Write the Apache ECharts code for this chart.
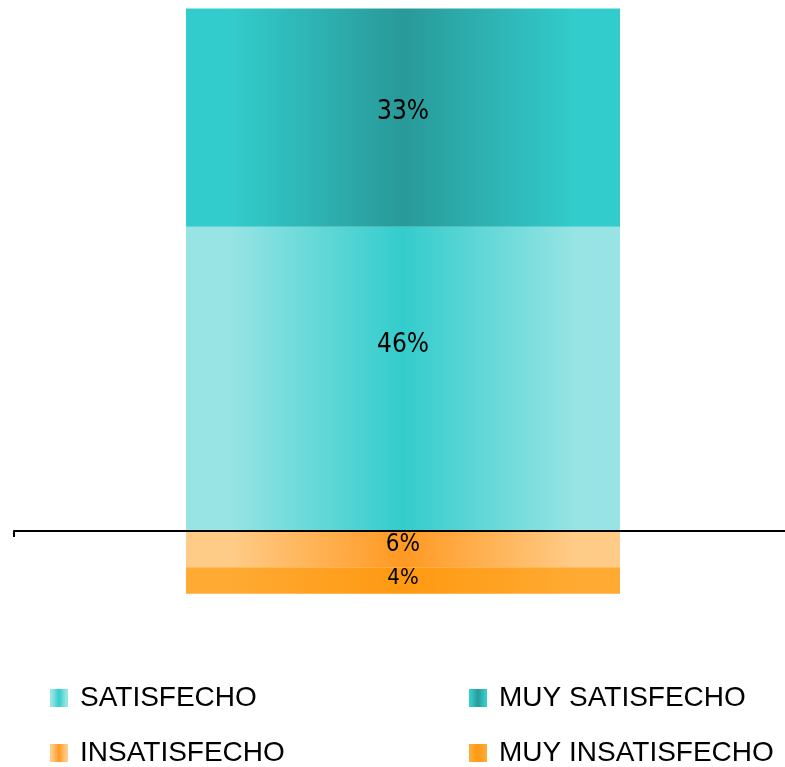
<!DOCTYPE html>
<html>
<head>
<meta charset="utf-8">
<script src="https://cdn.jsdelivr.net/npm/echarts@6/dist/echarts.min.js"></script>
<style>
  html, body { margin: 0; padding: 0; background: #fff; }
  #chart { width: 785px; height: 767px; }
</style>
</head>
<body>
<div id="chart"></div>
<script>
// single stacked column, positive = satisfied, negative = unsatisfied
const categories = ['Satisfacción'];
const satisfecho = [46];
const muySatisfecho = [33];
const insatisfecho = [-5.5];
const muyInsatisfecho = [-4];

function hGrad(edge, mid) {
  return new echarts.graphic.LinearGradient(0, 0, 1, 0, [
    { offset: 0, color: edge },
    { offset: 0.1, color: edge },
    { offset: 0.5, color: mid },
    { offset: 0.9, color: edge },
    { offset: 1, color: edge }
  ]);
}

const labelFont = '"Liberation Sans Narrow", "DejaVu Sans Condensed", "Noto Sans", sans-serif';

function pctLabel(size, dy) {
  return {
    show: true,
    position: 'inside',
    offset: [0, dy],
    color: '#000',
    fontFamily: labelFont,
    fontSize: size,
    formatter: p => Math.round(Math.abs(p.value)) + '%'
  };
}

const legendText = {
  color: '#000',
  fontFamily: '"Liberation Sans", Arial, sans-serif',
  fontSize: 28,
  lineHeight: 30,
  padding: [0, 0, 0, 7]
};

function legendAt(name, x, y) {
  return {
    left: x, top: y, padding: 0,
    itemWidth: 18, itemHeight: 18, icon: 'rect',
    data: [name],
    textStyle: legendText
  };
}

const chart = echarts.init(document.getElementById('chart'));

chart.setOption({
  animation: false,
  grid: { left: 14, top: 2, width: 778, bottom: 170, outerBoundsMode: 'none', containLabel: false },
  xAxis: {
    type: 'category',
    data: categories,
    z: 10,
    axisLine: { lineStyle: { color: '#000', width: 2 } },
    axisTick: { show: true, length: 6, lineStyle: { color: '#000', width: 2 } },
    axisLabel: { show: false }
  },
  yAxis: {
    type: 'value',
    min: -10,
    max: 80,
    show: false,
    splitLine: { show: false }
  },
  legend: [
    legendAt('SATISFECHO', 50, 683),
    legendAt('INSATISFECHO', 50, 738),
    legendAt('MUY SATISFECHO', 469, 683),
    legendAt('MUY INSATISFECHO', 469, 738)
  ],
  series: [
    {
      name: 'SATISFECHO', type: 'bar', stack: 'total', barWidth: 434,
      data: satisfecho,
      itemStyle: { color: hGrad('#98E4E4', '#33CCCC') },
      label: pctLabel(26, -34)
    },
    {
      name: 'MUY SATISFECHO', type: 'bar', stack: 'total', barWidth: 434,
      data: muySatisfecho,
      itemStyle: { color: hGrad('#33CCCC', '#299999') },
      label: pctLabel(26, -5)
    },
    {
      name: 'INSATISFECHO', type: 'bar', stack: 'total', barWidth: 434,
      data: insatisfecho,
      itemStyle: { color: hGrad('#FFCC88', '#FF9922') },
      label: pctLabel(24, -4)
    },
    {
      name: 'MUY INSATISFECHO', type: 'bar', stack: 'total', barWidth: 434,
      data: muyInsatisfecho,
      itemStyle: { color: hGrad('#FFAA33', '#FF9911') },
      label: pctLabel(22, -2)
    }
  ]
});
</script>
</body>
</html>
